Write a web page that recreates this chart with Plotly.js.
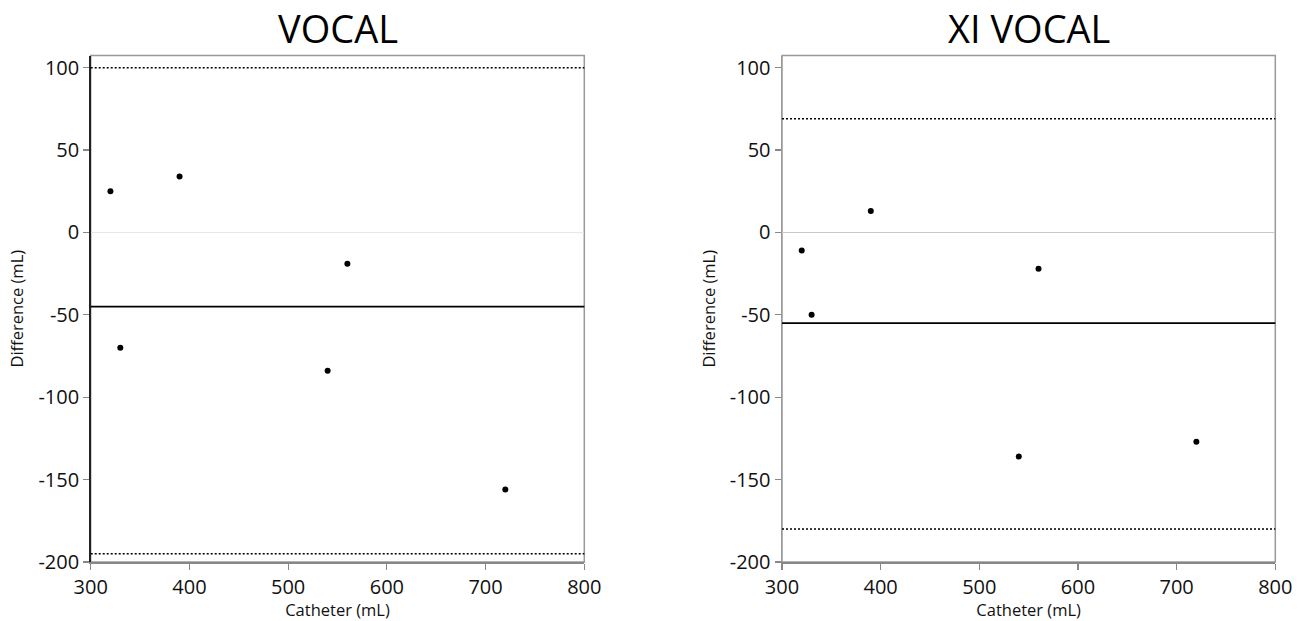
<!DOCTYPE html>
<html>
<head>
<meta charset="utf-8">
<script src="https://cdn.plot.ly/plotly-3.0.1.min.js"></script>
<style>html,body{margin:0;padding:0;background:#fff;}#chart{width:1308px;height:621px;}</style>
</head>
<body>
<div id="chart"></div>
<script>
// Data
const catheter = [320, 330, 390, 540, 560, 720];
const diffVocal = [25, -70, 34, -84, -19, -156];
const diffXIVocal = [-11, -50, 13, -136, -22, -127];
const vocalLines = {mean: -45, upper: 100, lower: -195};
const xiLines = {mean: -55, upper: 69, lower: -180};
const titles = ["VOCAL", "XI VOCAL"];
const yTicks = [100, 50, 0, -50, -100, -150, -200];
const xTicks = [300, 400, 500, 600, 700, 800];

const FONT = "Open Sans, Noto Sans, sans-serif";

function refLines(xa, ya, L) {
  const base = {type: 'line', xref: xa + ' domain', yref: ya, x0: 0, x1: 1};
  return [
    Object.assign({}, base, {y0: L.mean, y1: L.mean, line: {color: '#000', width: 1.8}}),
    Object.assign({}, base, {y0: L.upper, y1: L.upper, line: {color: '#000', width: 1.5, dash: '2px,2px'}}),
    Object.assign({}, base, {y0: L.lower, y1: L.lower, line: {color: '#000', width: 1.5, dash: '2px,2px'}})
  ];
}
function frame(xa, ya) {
  return {type: 'rect', xref: xa + ' domain', yref: ya + ' domain', x0: 0, x1: 1, y0: 0, y1: 1,
    line: {color: '#999', width: 1.5}, layer: 'below'};
}

const traces = [
  {x: catheter, y: diffVocal, xaxis: 'x', yaxis: 'y', mode: 'markers', type: 'scatter',
   marker: {color: '#000', size: 6}},
  {x: catheter, y: diffXIVocal, xaxis: 'x2', yaxis: 'y2', mode: 'markers', type: 'scatter',
   marker: {color: '#000', size: 6}}
];

function xaxisDef(domain, anchor) {
  return {domain: domain, anchor: anchor, range: [300, 800], tickvals: xTicks, ticktext: xTicks.map(String),
    showgrid: false, zeroline: false, showline: true, linecolor: '#888', linewidth: 1.5,
    ticks: 'outside', ticklen: 6, tickcolor: '#888', tickwidth: 1.2,
    tickfont: {family: FONT, size: 20, color: '#111'},
    title: {text: 'Catheter (mL)', font: {family: FONT, size: 16.5, color: '#111'}, standoff: 3},
    automargin: false, fixedrange: true};
}
function yaxisDef(anchor, lineColor, zeroColor) {
  return {domain: [1 - 562/621, 1 - 55.5/621], anchor: anchor, range: [-200, 107.4], tickvals: yTicks,
    ticktext: yTicks.map(String),
    showgrid: false, zeroline: true, zerolinecolor: zeroColor, zerolinewidth: 1.5,
    showline: true, linecolor: lineColor, linewidth: 1.5,
    ticks: 'outside', ticklen: 6, tickcolor: '#888', tickwidth: 1.2,
    tickfont: {family: FONT, size: 20, color: '#111'},
    title: {text: 'Difference (mL)', font: {family: FONT, size: 16.5, color: '#111'}, standoff: 10},
    automargin: false, fixedrange: true};
}

const dom1 = [90.7/1308, 584.3/1308];
const dom2 = [782/1308, 1275.3/1308];

const layout = {
  width: 1308, height: 621,
  margin: {l: 0, r: 0, t: 0, b: 0},
  paper_bgcolor: '#fff', plot_bgcolor: '#fff',
  showlegend: false,
  xaxis: xaxisDef(dom1, 'y'),
  yaxis: yaxisDef('x', '#222', '#e8e8e8'),
  xaxis2: xaxisDef(dom2, 'y2'),
  yaxis2: yaxisDef('x2', '#999', '#c8c8c8'),
  shapes: [frame('x', 'y'), frame('x2', 'y2')].concat(refLines('x', 'y', vocalLines), refLines('x2', 'y2', xiLines)),
  annotations: [
    {text: titles[0], xref: 'paper', yref: 'paper', x: (dom1[0] + dom1[1]) / 2, y: 1 - 28/621,
     showarrow: false, xanchor: 'center', yanchor: 'middle', font: {family: FONT, size: 38, color: '#000'}},
    {text: titles[1], xref: 'paper', yref: 'paper', x: (dom2[0] + dom2[1]) / 2, y: 1 - 28/621,
     showarrow: false, xanchor: 'center', yanchor: 'middle', font: {family: FONT, size: 38, color: '#000'}}
  ]
};

Plotly.newPlot('chart', traces, layout, {displayModeBar: false, staticPlot: true});
</script>
</body>
</html>
